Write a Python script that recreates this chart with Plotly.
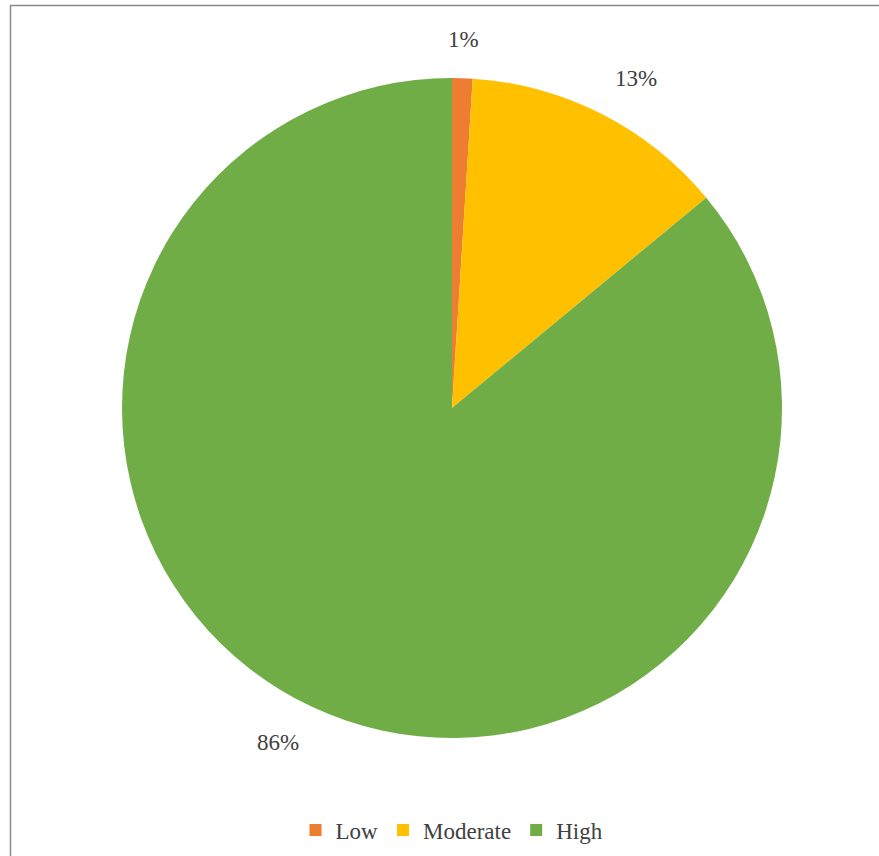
import math
import plotly.graph_objects as go

# Share of respondents per level
categories = ["Low", "Moderate", "High"]
shares = [1, 13, 86]
colors = ["#ED7D31", "#FFC000", "#70AD47"]

W, H = 879, 856
FONT = "Liberation Serif"
TEXT_COLOR = "#404040"

# Pie box in pixels (centre and radius)
CX, CY, R = 452, 408, 330
GAP = 24

fig = go.Figure(
    go.Pie(
        labels=categories,
        values=shares,
        sort=False,
        direction="clockwise",
        rotation=0,
        marker=dict(colors=colors, line=dict(width=0)),
        textinfo="none",
        hoverinfo="label+percent",
        domain=dict(x=[(CX - R) / W, (CX + R) / W], y=[1 - (CY + R) / H, 1 - (CY - R) / H]),
    )
)

# Percentage labels placed just outside each slice at its mid angle
total = sum(shares)
cum = 0
annotations = []
for v in shares:
    mid = (cum + v / 2) / total * 2 * math.pi
    cum += v
    s, c = math.sin(mid), math.cos(mid)
    px = CX + (R + GAP) * s
    py = CY - (R + GAP) * c
    xanchor = "left" if s > 0.2 else ("right" if s < -0.2 else "center")
    yanchor = "bottom" if c > 0 else "top"
    annotations.append(
        dict(
            x=px / W,
            y=1 - py / H,
            xref="paper",
            yref="paper",
            text=f"{v}%",
            showarrow=False,
            xanchor=xanchor,
            yanchor=yanchor,
            font=dict(family=FONT, size=23, color=TEXT_COLOR),
        )
    )

fig.update_layout(
    width=W,
    height=H,
    margin=dict(l=0, r=0, t=0, b=0),
    paper_bgcolor="white",
    font=dict(family=FONT, size=23, color=TEXT_COLOR),
    showlegend=True,
    legend=dict(
        orientation="h",
        x=452 / W,
        xanchor="center",
        y=1 - 830 / H,
        yanchor="middle",
        font=dict(family=FONT, size=23, color=TEXT_COLOR),
        itemwidth=30,
        tracegroupgap=0,
    ),
    annotations=annotations,
    shapes=[
        dict(
            type="rect",
            xref="paper",
            yref="paper",
            x0=10.5 / W,
            x1=1.05,
            y0=-0.05,
            y1=1 - 5.5 / H,
            line=dict(color="#8a8a8a", width=1.5),
            fillcolor="rgba(0,0,0,0)",
        )
    ],
)

fig.write_html("out.html")
